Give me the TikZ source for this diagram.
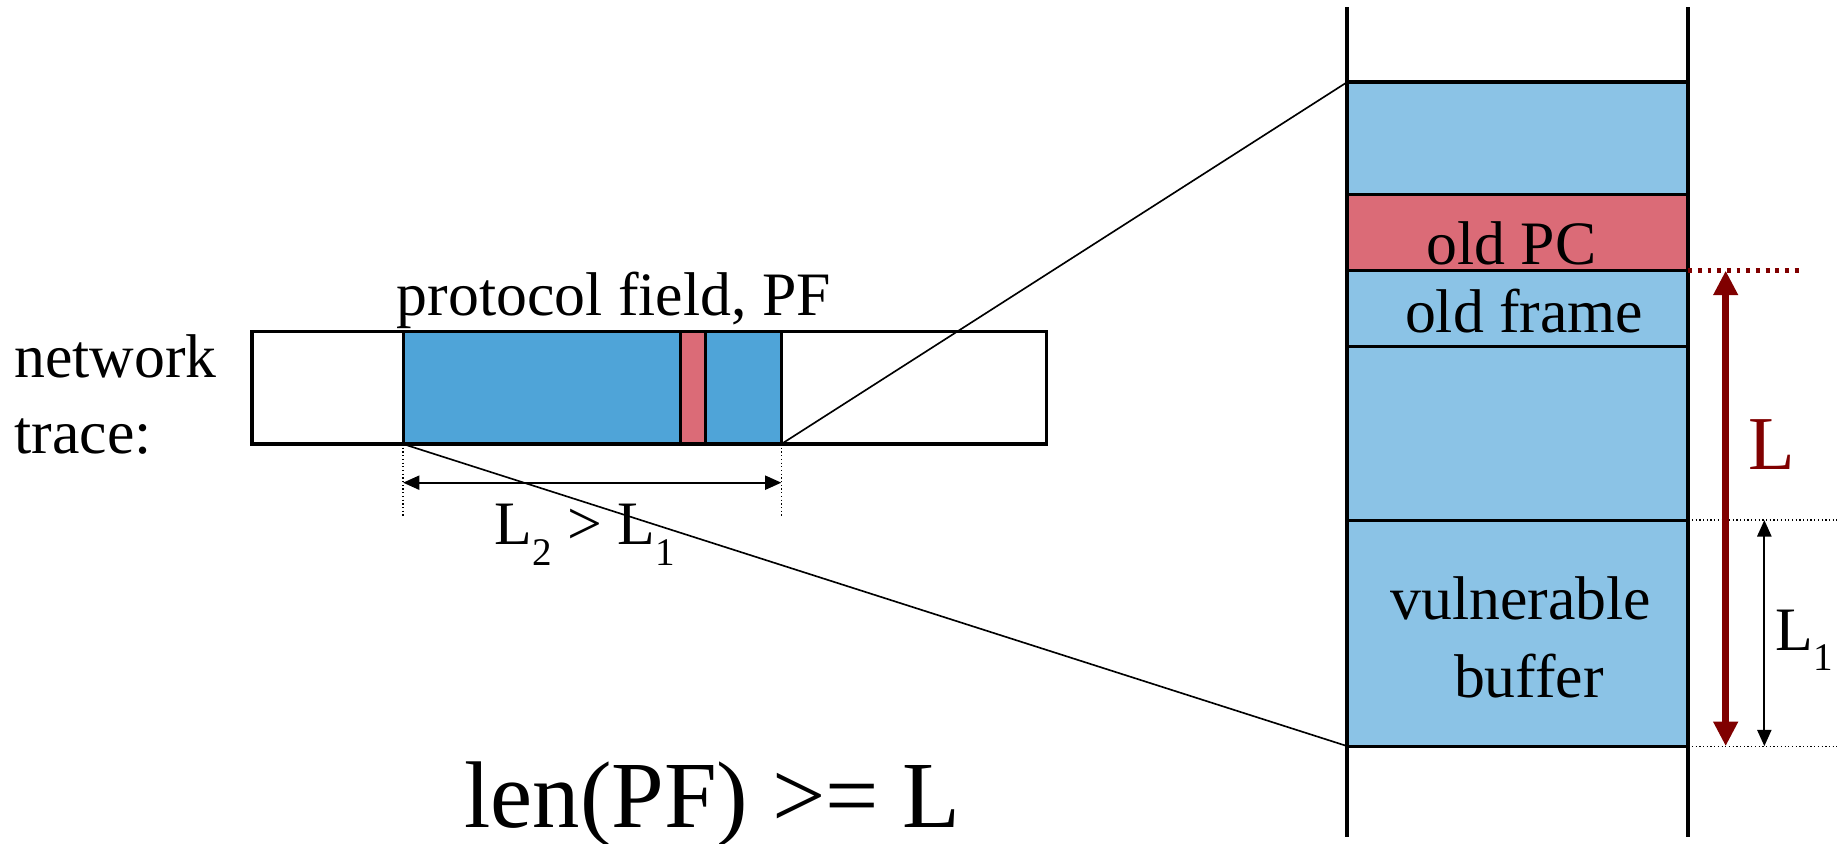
\documentclass[tikz,border=0pt]{standalone}
\usepackage{fontspec}
\setmainfont{Liberation Serif}
\usetikzlibrary{arrows.meta,positioning,calc}
\definecolor{stackblue}{HTML}{8BC3E6}
\definecolor{traceblue}{HTML}{4FA4D8}
\definecolor{pcred}{HTML}{DB6B77}
\definecolor{darkred}{HTML}{800000}
\newcommand{\lsub}[1]{\raisebox{-0.33em}{\fontsize{19}{19}\selectfont #1}}

\begin{document}
\begin{tikzpicture}[x=0.02cm, y=-0.02cm,
  cell/.style={draw, line width=1.5pt, fill=stackblue, minimum width=5.82cm, inner sep=0pt, outer sep=0pt},
  seg/.style={draw, line width=1.5pt, minimum height=1.92cm, inner sep=0pt, outer sep=0pt},
  lbl/.style={font=\fontsize{30}{37}\selectfont, inner sep=0pt},
  wall/.style={line width=1.9pt},
  zoomln/.style={line width=0.8pt},
  dots/.style={line width=0.6pt, dash pattern=on 0.6pt off 1.2pt},
  reddots/.style={line width=2.1pt, darkred, dash pattern=on 1.9pt off 2.8pt},
  dimarr/.style={{Triangle[length=0.28cm,width=0.24cm]}-{Triangle[length=0.28cm,width=0.24cm]}, line width=1.1pt},
  lenarr/.style={{Triangle[length=0.42cm,width=0.4cm]}-{Triangle[length=0.42cm,width=0.4cm]}, line width=3.4pt, darkred},
]
  \useasboundingbox (0,0) rectangle (1568,720);

  % network trace
  \node[seg, minimum width=13.56cm, fill=white] (trace) at (554,331) {};
  \node[seg, minimum width=6.46cm, fill=traceblue] (pf) at (505.5,331) {};
  \node[seg, minimum width=0.42cm, fill=pcred] (pfmark) at (591.5,331) {};
  \node[lbl, anchor=base west] (nettxt) at (12,322) {network};
  \node[lbl, anchor=base west] (trctxt) at (12,387) {trace:};
  \node[lbl, anchor=base] (pftxt) at (524,269) {protocol field, PF};

  % stack
  \node[cell, minimum height=1.92cm] (topcell) at (1295.5,118) {};
  \node[cell, fill=pcred, minimum height=1.30cm, below=0pt of topcell] (pccell) {};
  \node[cell, minimum height=1.30cm, below=0pt of pccell] (framecell) {};
  \node[cell, minimum height=2.96cm, below=0pt of framecell] (midcell) {};
  \node[cell, minimum height=3.86cm, below=0pt of midcell] (bufcell) {};
  \coordinate (wlt) at (1150,6);
  \coordinate (wlb) at (1150,714);
  \coordinate (wrt) at (1441,6);
  \coordinate (wrb) at (1441,714);
  \draw[wall] (wlt) -- (wlb);
  \draw[wall] (wrt) -- (wrb);
  \node[lbl, anchor=base] (pctxt) at (1290,226) {old PC};
  \node[lbl, anchor=base] (frametxt) at (1301,284) {old frame};
  \node[lbl, anchor=base] (buftxt) at (1298,529) {vulnerable};
  \node[lbl, anchor=base] (buftxtb) at (1305,595) {buffer};

  % zoom lines
  \draw[zoomln] (pf.south east) -- (topcell.north west);
  \draw[zoomln] (pf.south west) -- (bufcell.south west);

  % length of PF
  \coordinate (pfl) at ($(pf.south west)+(0,62)$);
  \coordinate (pfr) at ($(pf.south east)+(0,62)$);
  \coordinate (dimla) at ($(pf.south west)+(0,33)$);
  \coordinate (dimra) at ($(pf.south east)+(0,33)$);
  \draw[dots] (pf.south west) -- (pfl);
  \draw[dots] (pf.south east) -- (pfr);
  \draw[dimarr] (dimla) -- (dimra);
  \node[lbl, anchor=base] (l2txt) at (499,465) {L\lsub{2} > L\lsub{1}};

  % lengths on the stack
  \coordinate (rdend) at ($(framecell.north east)+(96,0)$);
  \coordinate (mdend) at ($(midcell.south east)+(127,0)$);
  \coordinate (bdend) at ($(bufcell.south east)+(127,0)$);
  \draw[reddots] (framecell.north east) -- (rdend);
  \draw[dots] (midcell.south east) -- (mdend);
  \draw[dots] (bufcell.south east) -- (bdend);
  \coordinate (ltop) at ($(framecell.north east)+(32,0)$);
  \coordinate (lbot) at ($(bufcell.south east)+(32,0)$);
  \draw[lenarr] (ltop) -- (lbot);
  \coordinate (lonetop) at ($(bufcell.north east)+(65,0)$);
  \coordinate (lonebot) at ($(bufcell.south east)+(65,0)$);
  \draw[dimarr] (lonetop) -- (lonebot);
  \node[anchor=base west, inner sep=0pt, text=darkred, font=\fontsize{37}{44}\selectfont] (ltxt) at (1492,401) {L};
  \node[lbl, anchor=base west] (l1txt) at (1515,555) {L\lsub{1}};

  \node[anchor=base, inner sep=0pt, font=\fontsize{46}{55}\selectfont] (cond) at (608,706) {len(PF) >= L};
\end{tikzpicture}
\end{document}
